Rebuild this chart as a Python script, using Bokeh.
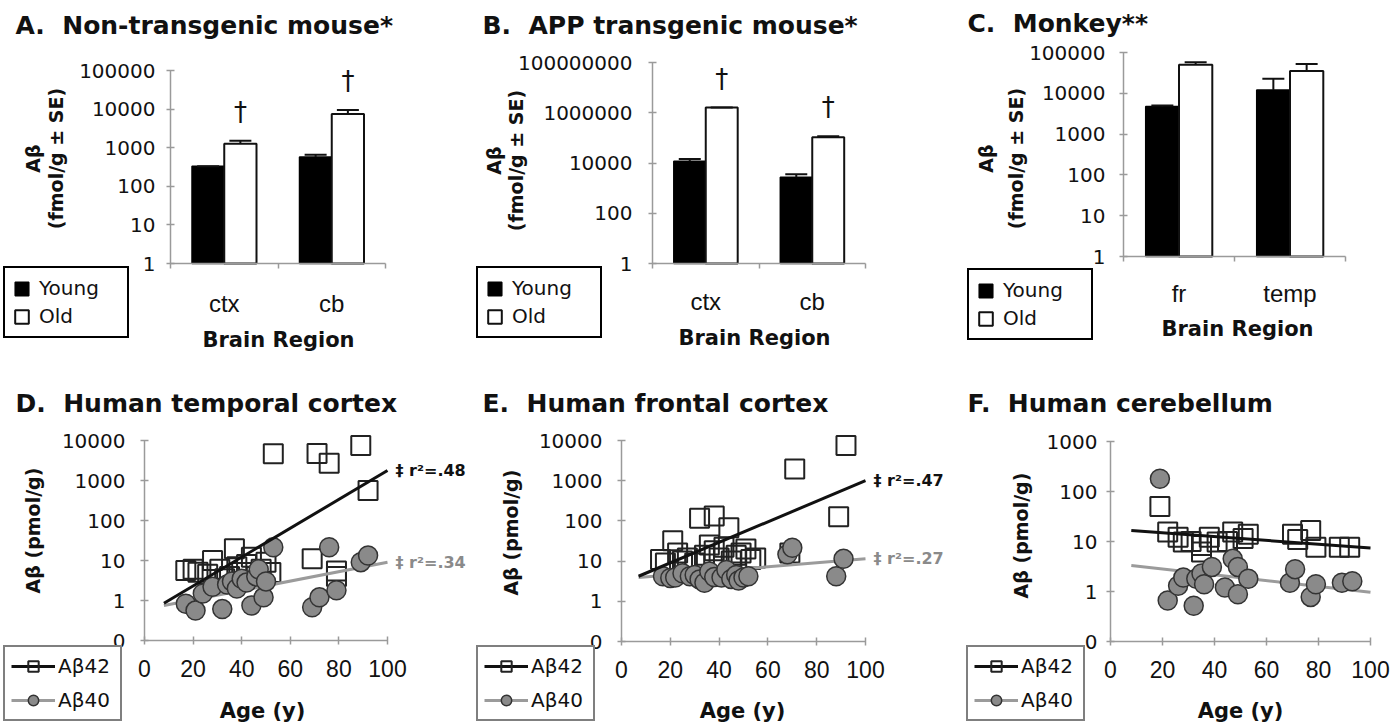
import math
from bokeh.plotting import figure
from bokeh.models import (Range1d, FixedTicker, NumeralTickFormatter, LinearAxis, LogAxis,
                          Label, Legend, LegendItem, ColumnDataSource)
from bokeh.transform import dodge
from bokeh.layouts import row, column
from bokeh.embed import file_html
from bokeh.resources import INLINE
from bokeh.core.properties import value

# ---------------- data ----------------
mouse_regions = ["ctx", "cb"]
monkey_regions = ["fr", "temp"]

a_young = [330, 570]
a_young_se = [0, 90]
a_old = [1260, 7500]
a_old_se = [250, 2000]
a_sig = ["†", "†"]

b_young = [11700, 2700]
b_young_se = [2800, 900]
b_old = [1600000, 105000]
b_old_se = [0, 12000]
b_sig = ["†", "†"]

c_young = [4750, 12100]
c_young_se = [300, 10500]
c_old = [50000, 35000]
c_old_se = [8000, 17000]

ac_yticks = [1, 10, 100, 1000, 10000, 100000]
ac_ytick_labels = ["1", "10", "100", "1000", "10000", "100000"]
b_yticks = [1, 100, 10000, 1000000, 100000000]
b_ytick_labels = ["1", "100", "10000", "1000000", "100000000"]

age_ticks = [0, 20, 40, 60, 80, 100]
age_tick_labels = ["0", "20", "40", "60", "80", "100"]
de_yticks = [0.1, 1, 10, 100, 1000, 10000]
de_ytick_labels = ["0", "1", "10", "100", "1000", "10000"]
f_yticks = [0.1, 1, 10, 100, 1000]
f_ytick_labels = ["0", "1", "10", "100", "1000"]

# D. Human temporal cortex
d_a42_age = [17, 20, 22, 26, 28, 31, 33, 35, 37, 38, 40, 42, 44, 46, 48, 50, 52, 53, 69, 71, 76, 79, 79, 89, 92]
d_a42 = [5.6, 6, 5.1, 4.5, 10, 6, 3.5, 4, 19.6, 7, 5, 8, 12, 4, 6, 9, 5, 4650, 11, 4700, 2700, 5.5, 4, 7500, 560]
d_a40_age = [17, 21, 24, 28, 32, 34, 36, 38, 40, 42, 44, 46, 47, 49, 50, 53, 69, 72, 76, 79, 89, 92]
d_a40 = [0.83, 0.56, 1.5, 2.2, 0.61, 2.5, 3, 2, 3.5, 2.8, 0.75, 4, 6, 1.2, 3, 21.5, 0.68, 1.2, 21.5, 1.8, 9.1, 13.3]
d_fit_age = [8, 100]
d_fit42 = [0.85, 1780]
d_fit40 = [0.75, 9]
d_r2 = ["‡ r²=.48", "‡ r²=.34"]

# E. Human frontal cortex
e_a42_age = [16, 18, 21, 23, 25, 27, 30, 32, 34, 36, 38, 38, 40, 42, 44, 45, 47, 49, 51, 53, 55, 69, 71, 89, 92]
e_a42 = [11, 9, 32, 16, 10, 12, 9, 117, 14, 25, 133, 18, 12, 22, 68, 10, 14, 16, 20, 11, 12, 16, 1960, 126, 7500]
e_a40_age = [17, 20, 22, 25, 28, 30, 32, 34, 36, 38, 41, 43, 45, 47, 48, 50, 52, 68, 70, 88, 91]
e_a40 = [4.2, 3.8, 3.9, 5, 4.2, 4.5, 3.5, 2.9, 5.5, 4, 3.9, 6, 3.6, 4.5, 3.3, 3.9, 4.2, 14.7, 21.5, 4.2, 11.4]
e_fit_age = [7, 100]
e_fit42 = [4.2, 1000]
e_fit40 = [3.9, 11.4]
e_r2 = ["‡ r²=.47", "‡ r²=.27"]

# F. Human cerebellum
f_a42_age = [19, 22, 26, 28, 31, 35, 35, 38, 41, 45, 47, 51, 53, 70, 72, 77, 79, 88, 92]
f_a42 = [50, 15.4, 12.2, 9.8, 10, 8.3, 6.2, 12.2, 9.8, 10, 15.4, 11.5, 14, 14, 11, 16.6, 7.7, 7.7, 7.7]
f_a40_age = [19, 22, 26, 28, 32, 33, 35, 36, 39, 44, 47, 49, 49, 53, 69, 71, 77, 79, 89, 93]
f_a40 = [180, 0.66, 1.3, 1.9, 0.52, 1.8, 2.3, 1.4, 3.1, 1.2, 4.5, 3.1, 0.88, 1.8, 1.5, 2.8, 0.78, 1.4, 1.5, 1.6]
f_fit_age = [8, 100]
f_fit42 = [16.6, 7.4]
f_fit40 = [3.3, 0.97]

# ---------------- style ----------------
FONT = "DejaVu Sans"
AXIS_GRAY = "#9a9a9a"
TXT = "#111111"


def make_fig(fig_box, data_box, xr, yr):
    """Figure whose plot frame fills the whole canvas; data region placed at data_box."""
    fx0, fy0, fx1, fy1 = fig_box
    lx0, ly0, lx1, ly1 = data_box
    ux = (xr[1] - xr[0]) / (lx1 - lx0)
    xs, xe = xr[0] - (lx0 - fx0) * ux, xr[1] + (fx1 - lx1) * ux
    la, lb = math.log10(yr[0]), math.log10(yr[1])
    dy = (lb - la) / (ly1 - ly0)
    ys, ye = 10 ** (la - (fy1 - ly1) * dy), 10 ** (lb + (ly0 - fy0) * dy)
    p = figure(x_range=Range1d(xs, xe), y_range=Range1d(ys, ye), y_axis_type="log",
               x_axis_location=None, y_axis_location=None,
               frame_width=fx1 - fx0, frame_height=fy1 - fy0, min_border=0,
               toolbar_location=None, output_backend="svg", title=None)
    p.outline_line_color = None
    p.grid.visible = False
    p.background_fill_color = "white"
    p.border_fill_color = "white"
    return p


def style_axis(ax):
    ax.axis_line_color = AXIS_GRAY
    ax.axis_line_width = 1.5
    ax.major_tick_line_color = AXIS_GRAY
    ax.major_tick_line_width = 1.5
    ax.minor_tick_line_color = None
    ax.major_label_text_color = TXT


def add_y_axis(p, xr, yr, ticks, labels, standoff):
    ax = LogAxis(fixed_location=xr[0], bounds=yr,
                 ticker=FixedTicker(ticks=ticks, minor_ticks=[]),
                 formatter=NumeralTickFormatter(format="0"),
                 major_label_overrides={t: l for t, l in zip(ticks, labels)})
    style_axis(ax)
    ax.major_tick_in = 4
    ax.major_tick_out = 4
    ax.major_label_standoff = standoff
    ax.major_label_text_font = FONT
    ax.major_label_text_font_size = "20px"
    p.add_layout(ax, "left")
    return ax


def put(p, fig_box, text, x, y, size, bold=False, color=TXT, align="left",
        baseline="alphabetic", angle=0.0, font=FONT):
    fx0, fy0, fx1, fy1 = fig_box
    p.add_layout(Label(x=x - fx0, y=fy1 - y, x_units="screen", y_units="screen",
                       text=text, text_font=font, text_font_size=f"{size}px",
                       text_font_style="bold" if bold else "normal",
                       text_color=color, text_align=align, text_baseline=baseline,
                       angle=angle))


def bar_panel(regions, young, young_se, old, old_se, sig, yticks, ylabels, ymax,
              fig_box, data_box, title, title_xy, ylab_xy, xlab_xy, legend_xy,
              cat_standoff, std_y):
    xr, yr = (0, len(regions)), (1, ymax)
    p = make_fig(fig_box, data_box, xr, yr)
    pos = [i + 0.5 for i in range(len(regions))]
    src = ColumnDataSource(dict(
        pos=pos, young=young, old=old,
        young_top=[v + s for v, s in zip(young, young_se)],
        old_top=[v + s for v, s in zip(old, old_se)],
        sig=sig if sig else [""] * len(regions)))
    xy = dodge("pos", -0.15)
    xo = dodge("pos", 0.15)
    r_y = p.vbar(x=xy, top="young", bottom=1, width=0.3, source=src,
                 fill_color="black", line_color="black", line_width=1.5)
    r_o = p.vbar(x=xo, top="old", bottom=1, width=0.3, source=src,
                 fill_color="white", line_color="#111111", line_width=2)
    for xx, lo, hi in ((xy, "young", "young_top"), (xo, "old", "old_top")):
        p.segment(x0=xx, y0=lo, x1=xx, y1=hi, source=src, line_color="#111111", line_width=2)
        p.scatter(x=xx, y=hi, source=src, marker="dash", size=22,
                  line_color="#111111", line_width=2)
    if sig:
        p.text(x=xo, y="old_top", text="sig", source=src, text_align="center",
               text_baseline="alphabetic", y_offset=-29, text_font=value(FONT),
               text_font_size="26px", text_color=TXT)
    add_y_axis(p, xr, yr, yticks, ylabels, std_y)
    xa = LinearAxis(fixed_location=1, bounds=xr,
                    ticker=FixedTicker(ticks=pos, minor_ticks=list(range(len(regions) + 1))),
                    major_label_overrides={t: r for t, r in zip(pos, regions)})
    style_axis(xa)
    xa.major_tick_line_color = None
    xa.major_tick_in = 0
    xa.major_tick_out = 0
    xa.minor_tick_line_color = AXIS_GRAY
    xa.minor_tick_line_width = 1.5
    xa.minor_tick_in = 0
    xa.minor_tick_out = 5
    xa.major_label_standoff = cat_standoff
    xa.major_label_text_font = "Liberation Sans"
    xa.major_label_text_font_size = "24px"
    p.add_layout(xa, "below")

    put(p, fig_box, title, title_xy[0], title_xy[1], 25, bold=True)
    put(p, fig_box, "Aβ", ylab_xy[0], ylab_xy[2], 19, bold=True, align="center",
        baseline="middle", angle=math.pi / 2)
    put(p, fig_box, "(fmol/g ± SE)", ylab_xy[1], ylab_xy[2], 19, bold=True,
        align="center", baseline="middle", angle=math.pi / 2)
    put(p, fig_box, "Brain Region", xlab_xy[0], xlab_xy[1], 21, bold=True, align="center")

    leg = Legend(items=[LegendItem(label=value("Young"), renderers=[r_y]),
                        LegendItem(label=value("Old"), renderers=[r_o])],
                 location=legend_xy, orientation="vertical",
                 border_line_color="black", border_line_width=2, border_line_alpha=1,
                 background_fill_color="white", background_fill_alpha=1,
                 padding=8, spacing=4, margin=0, glyph_width=17, glyph_height=17,
                 label_height=24, label_width=80, label_standoff=9,
                 label_text_font=FONT, label_text_font_size="20px", label_text_color=TXT)
    p.add_layout(leg)
    return p


def scatter_panel(a42_age, a42, a40_age, a40, fit_age, fit42, fit40, r2, yticks, ylabels,
                  ymin, ymax, fig_box, data_box, title, title_xy, ylab_xy, xlab_xy,
                  legend_xy, std_y):
    xr, yr = (0, 100), (ymin, ymax)
    p = make_fig(fig_box, data_box, xr, yr)
    r_sq = p.scatter(a42_age, a42, marker="square", size=19, fill_color=None,
                     line_color="#222222", line_width=2)
    r_l40 = p.line(fit_age, fit40, line_color="#9b9b9b", line_width=3)
    r_ci = p.scatter(a40_age, a40, marker="circle", size=19, fill_color="#8a8a8a",
                     line_color="#333333", line_width=1.5)
    r_l42 = p.line(fit_age, fit42, line_color="#111111", line_width=3)
    add_y_axis(p, xr, yr, yticks, ylabels, std_y)
    xa = LinearAxis(fixed_location=ymin, bounds=xr,
                    ticker=FixedTicker(ticks=age_ticks, minor_ticks=[]),
                    major_label_overrides={t: l for t, l in zip(age_ticks, age_tick_labels)})
    style_axis(xa)
    xa.major_tick_in = 4
    xa.major_tick_out = 4
    xa.major_label_standoff = 15
    xa.major_label_text_font = "Liberation Sans"
    xa.major_label_text_font_size = "23px"
    p.add_layout(xa, "below")
    if r2:
        p.add_layout(Label(x=fit_age[-1], y=fit42[-1], x_offset=8, text=r2[0],
                           text_font=FONT, text_font_size="16px", text_font_style="bold",
                           text_color="#111111", text_baseline="middle"))
        p.add_layout(Label(x=fit_age[-1], y=fit40[-1], x_offset=8, text=r2[1],
                           text_font=FONT, text_font_size="16px", text_font_style="bold",
                           text_color="#8a8a8a", text_baseline="middle"))
    put(p, fig_box, title, title_xy[0], title_xy[1], 25, bold=True)
    put(p, fig_box, "Aβ (pmol/g)", ylab_xy[0], ylab_xy[1], 19, bold=True,
        align="center", baseline="middle", angle=math.pi / 2)
    put(p, fig_box, "Age (y)", xlab_xy[0], xlab_xy[1], 21, bold=True, align="center")
    leg = Legend(items=[LegendItem(label=value("Aβ42"), renderers=[r_l42, r_sq]),
                        LegendItem(label=value("Aβ40"), renderers=[r_l40, r_ci])],
                 location=legend_xy, orientation="vertical",
                 border_line_color="black", border_line_width=2,
                 background_fill_color="white", background_fill_alpha=1,
                 padding=6, spacing=8, margin=0, glyph_width=44, glyph_height=26,
                 label_height=26, label_width=56, label_standoff=3,
                 label_text_font=FONT, label_text_font_size="20px", label_text_color=TXT)
    p.add_layout(leg)
    return p


# page coordinates: figure boxes and data (axes) boxes
A_fig, A_dat = (0, 0, 474, 360), (170, 70, 385, 263)
B_fig, B_dat = (474, 0, 956, 360), (652, 62, 865, 263)
C_fig, C_dat = (956, 0, 1392, 360), (1123, 52, 1345, 256)
D_fig, D_dat = (0, 360, 474, 722), (144, 440, 387, 640)
E_fig, E_dat = (474, 360, 956, 722), (621, 440, 865, 641)
F_fig, F_dat = (956, 360, 1392, 722), (1110, 441, 1370, 641)


def leg_loc(fig_box, left, bottom):
    return (left - fig_box[0], fig_box[3] - bottom)


SP = "\u00a0 "
pA = bar_panel(mouse_regions, a_young, a_young_se, a_old, a_old_se, a_sig,
               ac_yticks, ac_ytick_labels, 100000, A_fig, A_dat,
               "A." + SP + "Non-transgenic mouse*", (15, 25), (32, 55, 158), (278, 339),
               leg_loc(A_fig, 3, 338), 21, 11)
pB = bar_panel(mouse_regions, b_young, b_young_se, b_old, b_old_se, b_sig,
               b_yticks, b_ytick_labels, 100000000, B_fig, B_dat,
               "B." + SP + "APP transgenic mouse*", (482, 25), (493, 515, 160), (754, 337),
               leg_loc(B_fig, 476, 338), 19, 16)
pC = bar_panel(monkey_regions, c_young, c_young_se, c_old, c_old_se, None,
               ac_yticks, ac_ytick_labels, 100000, C_fig, C_dat,
               "C." + SP + "Monkey**", (967, 23), (985, 1015, 158), (1237, 328),
               leg_loc(C_fig, 967, 340), 18, 14)

pD = scatter_panel(d_a42_age, d_a42, d_a40_age, d_a40, d_fit_age, d_fit42, d_fit40, d_r2,
                   de_yticks, de_ytick_labels, 0.1, 10000, D_fig, D_dat,
                   "D." + SP + "Human temporal cortex", (15, 403), (32, 530), (262, 710),
                   leg_loc(D_fig, 3, 721), 15)
pE = scatter_panel(e_a42_age, e_a42, e_a40_age, e_a40, e_fit_age, e_fit42, e_fit40, e_r2,
                   de_yticks, de_ytick_labels, 0.1, 10000, E_fig, E_dat,
                   "E." + SP + "Human frontal cortex", (482, 403), (510, 532), (742, 710),
                   leg_loc(E_fig, 476, 721), 15)
pF = scatter_panel(f_a42_age, f_a42, f_a40_age, f_a40, f_fit_age, f_fit42, f_fit40, None,
                   f_yticks, f_ytick_labels, 0.1, 1000, F_fig, F_dat,
                   "F." + SP + "Human cerebellum", (967, 403), (1020, 535), (1240, 710),
                   leg_loc(F_fig, 966, 721), 9)

layout = column(row(pA, pB, pC, spacing=0), row(pD, pE, pF, spacing=0), spacing=0)
open("out.html", "w").write(file_html(layout, INLINE))
